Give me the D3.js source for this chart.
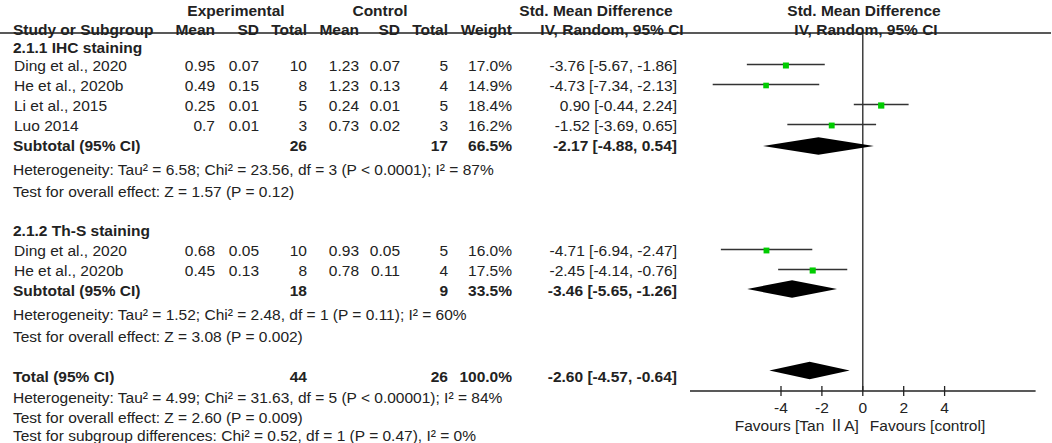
<!DOCTYPE html>
<html>
<head>
<meta charset="utf-8">
<script src="https://cdn.jsdelivr.net/npm/d3@7"></script>
<style>
  html, body { margin: 0; padding: 0; background: #fff; }
  svg { display: block; }
  text { font-family: "Liberation Sans", Arial, sans-serif; font-size: 15.5px; fill: #222; }
  .b { font-weight: bold; }
</style>
</head>
<body>
<svg id="chart" width="1052" height="443"></svg>
<script>
// ---------- data ----------
const groups = ["2.1.1 IHC staining", "2.1.2 Th-S staining"];
const studies = ["Ding et al., 2020", "He et al., 2020b", "Li et al., 2015", "Luo 2014", "Ding et al., 2020", "He et al., 2020b"];
const expMean = ["0.95", "0.49", "0.25", "0.7", "0.68", "0.45"];
const expSD = ["0.07", "0.15", "0.01", "0.01", "0.05", "0.13"];
const expN = [10, 8, 5, 3, 10, 8];
const ctlMean = ["1.23", "1.23", "0.24", "0.73", "0.93", "0.78"];
const ctlSD = ["0.07", "0.13", "0.01", "0.02", "0.05", "0.11"];
const ctlN = [5, 4, 5, 3, 5, 4];
const weight = [17.0, 14.9, 18.4, 16.2, 16.0, 17.5];
const smd = [-3.76, -4.73, 0.90, -1.52, -4.71, -2.45];
const ciLo = [-5.67, -7.34, -0.44, -3.69, -6.94, -4.14];
const ciHi = [-1.86, -2.13, 2.24, 0.65, -2.47, -0.76];

const subExpN = [26, 18];
const subCtlN = [17, 9];
const subWeight = [66.5, 33.5];
const subSmd = [-2.17, -3.46];
const subLo = [-4.88, -5.65];
const subHi = [0.54, -1.26];
const subHet = [
  "Heterogeneity: Tau² = 6.58; Chi² = 23.56, df = 3 (P < 0.0001); I² = 87%",
  "Heterogeneity: Tau² = 1.52; Chi² = 2.48, df = 1 (P = 0.11); I² = 60%"
];
const subTest = [
  "Test for overall effect: Z = 1.57 (P = 0.12)",
  "Test for overall effect: Z = 3.08 (P = 0.002)"
];

const totExpN = 44, totCtlN = 26, totWeight = 100.0;
const totSmd = -2.60, totLo = -4.57, totHi = -0.64;
const totNotes = [
  "Heterogeneity: Tau² = 4.99; Chi² = 31.63, df = 5 (P < 0.00001); I² = 84%",
  "Test for overall effect: Z = 2.60 (P = 0.009)",
  "Test for subgroup differences: Chi² = 0.52, df = 1 (P = 0.47), I² = 0%"
];

const tickValues = [-4, -2, 0, 2, 4];
const favLeftParts = ["Favours [Tan ", "Ⅱ", "A]"];
const favRight = "Favours [control]";

// ---------- layout ----------
const svg = d3.select("#chart");
const x = d3.scaleLinear().domain([-4, 4]).range([781, 944.6]);
const axisExtent = [-8.45, 8.45];

const rowY = {
  hdr1: 10, hdr2: 29,
  group: [47, 230],
  study: [65, 85, 105, 125, 250, 270],
  sub: [145, 290], subDia: [146, 289],
  het: [169, 314], test: [191, 336],
  tot: 376, totDia: 370.5, totNotes: [397, 417, 435]
};

const col = { name: 13, eM: 215, eSD: 259, eN: 307, cM: 359, cSD: 400, cN: 448, w: 512, ci: 677 };
const fmt2 = v => d3.format(".2f")(v).replace("−", "-");
const ciText = (m, l, h) => `${fmt2(m)} [${fmt2(l)}, ${fmt2(h)}]`;
const pct = v => d3.format(".1f")(v) + "%";

function txt(s, xx, yy, anchor, bold) {
  return svg.append("text").attr("x", xx).attr("y", yy).attr("dy", "0.36em")
    .attr("text-anchor", anchor || "start").attr("class", bold ? "b" : null).text(s);
}

// headers
txt("Experimental", 236, rowY.hdr1, "middle", true);
txt("Control", 380, rowY.hdr1, "middle", true);
txt("Std. Mean Difference", 596, rowY.hdr1, "middle", true);
txt("Std. Mean Difference", 864, rowY.hdr1, "middle", true);
txt("Study or Subgroup", col.name, rowY.hdr2, "start", true);
txt("Mean", col.eM, rowY.hdr2, "end", true);
txt("SD", col.eSD, rowY.hdr2, "end", true);
txt("Total", col.eN, rowY.hdr2, "end", true);
txt("Mean", col.cM, rowY.hdr2, "end", true);
txt("SD", col.cSD, rowY.hdr2, "end", true);
txt("Total", col.cN, rowY.hdr2, "end", true);
txt("Weight", col.w, rowY.hdr2, "end", true);
txt("IV, Random, 95% CI", 612, rowY.hdr2, "middle", true);
txt("IV, Random, 95% CI", 866, rowY.hdr2, "middle", true);

svg.append("line").attr("x1", 0).attr("x2", 1051).attr("y1", 33).attr("y2", 33)
  .attr("stroke", "#222").attr("stroke-width", 1.6);

// groups
groups.forEach((g, i) => txt(g, col.name, rowY.group[i], "start", true));

// study rows text
studies.forEach((s, i) => {
  const y = rowY.study[i];
  txt(s, col.name + 1, y);
  txt(expMean[i], col.eM, y, "end");
  txt(expSD[i], col.eSD, y, "end");
  txt(expN[i], col.eN, y, "end");
  txt(ctlMean[i], col.cM, y, "end");
  txt(ctlSD[i], col.cSD, y, "end");
  txt(ctlN[i], col.cN, y, "end");
  txt(pct(weight[i]), col.w, y, "end");
  txt(ciText(smd[i], ciLo[i], ciHi[i]), col.ci, y, "end");
});

// subtotals
groups.forEach((g, i) => {
  const y = rowY.sub[i];
  txt("Subtotal (95% CI)", col.name, y, "start", true);
  txt(subExpN[i], col.eN, y, "end", true);
  txt(subCtlN[i], col.cN, y, "end", true);
  txt(pct(subWeight[i]), col.w, y, "end", true);
  txt(ciText(subSmd[i], subLo[i], subHi[i]), col.ci, y, "end", true);
  txt(subHet[i], col.name, rowY.het[i]);
  txt(subTest[i], col.name, rowY.test[i]);
});

// total
txt("Total (95% CI)", col.name, rowY.tot, "start", true);
txt(totExpN, col.eN, rowY.tot, "end", true);
txt(totCtlN, col.cN, rowY.tot, "end", true);
txt(pct(totWeight), col.w, rowY.tot, "end", true);
txt(ciText(totSmd, totLo, totHi), col.ci, rowY.tot, "end", true);
totNotes.forEach((t, i) => txt(t, col.name, rowY.totNotes[i]));

// ---------- plot ----------
const axisY = 391;
svg.append("line").attr("x1", x(0)).attr("x2", x(0)).attr("y1", 33).attr("y2", axisY)
  .attr("stroke", "#222").attr("stroke-width", 1.3);

const axisG = svg.append("g").attr("transform", `translate(0,${axisY})`);
axisG.append("line").attr("x1", x(axisExtent[0])).attr("x2", x(axisExtent[1]))
  .attr("stroke", "#222").attr("stroke-width", 1.3);
axisG.selectAll("line.tick").data(tickValues).join("line").attr("class", "tick")
  .attr("x1", d => x(d)).attr("x2", d => x(d)).attr("y1", -5).attr("y2", 5)
  .attr("stroke", "#222").attr("stroke-width", 1.3);
axisG.selectAll("text.tl").data(tickValues).join("text").attr("class", "tl")
  .attr("x", d => x(d)).attr("y", 16).attr("dy", "0.36em").attr("text-anchor", "middle")
  .text(d => String(d));

const fl = txt("", x(0) - 4, 425, "end");
fl.append("tspan").text(favLeftParts[0]);
fl.append("tspan").style("font-family", "'Noto Sans CJK SC', 'DejaVu Serif', serif").text(favLeftParts[1]);
fl.append("tspan").text(favLeftParts[2]);
txt(favRight, x(0) + 7, 425, "start");

// CIs and squares
const sq = d3.scaleSqrt().domain([0, 17]).range([0, 6]);
studies.forEach((s, i) => {
  const y = rowY.study[i] - 0.5;
  svg.append("line").attr("x1", x(ciLo[i])).attr("x2", x(ciHi[i])).attr("y1", y).attr("y2", y)
    .attr("stroke", "#333").attr("stroke-width", 1.3);
  const sz = sq(weight[i]);
  svg.append("rect").attr("x", x(smd[i]) - sz / 2).attr("y", y - sz / 2 + 1)
    .attr("width", sz).attr("height", sz).attr("fill", "#00cc00");
});

// diamonds
function diamond(m, l, h, y) {
  const hh = 8.8;
  svg.append("path")
    .attr("d", `M${x(l)},${y} L${x(m)},${y - hh} L${x(h)},${y} L${x(m)},${y + hh} Z`)
    .attr("fill", "#000");
}
groups.forEach((g, i) => diamond(subSmd[i], subLo[i], subHi[i], rowY.subDia[i]));
diamond(totSmd, totLo, totHi, rowY.totDia);
</script>
</body>
</html>
